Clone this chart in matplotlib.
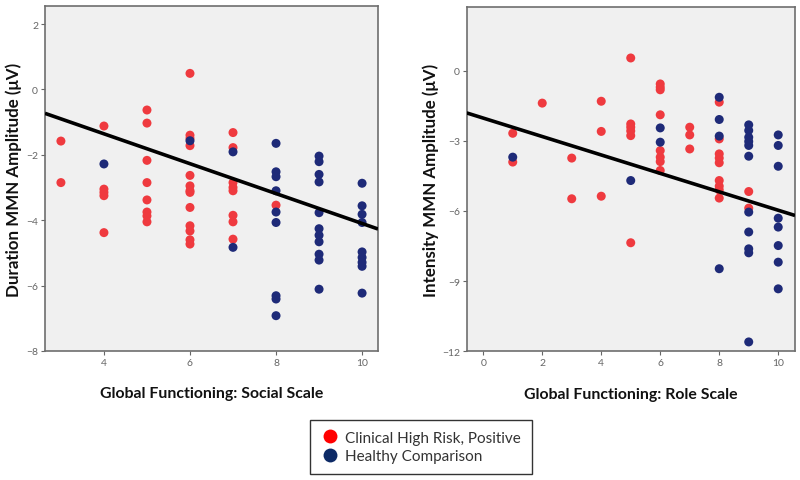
import matplotlib
matplotlib.use("Agg")
import matplotlib.pyplot as plt
from matplotlib.lines import Line2D
import numpy as np

plt.rcParams['font.family'] = ['Lato', 'DejaVu Sans']

# ---- Left panel data: Social scale vs Duration MMN ----
social_chr_x = [3, 3,
                4, 4, 4, 4, 4,
                5, 5, 5, 5, 5, 5, 5, 5,
                6, 6, 6, 6, 6, 6, 6, 6, 6, 6, 6, 6, 6,
                7, 7, 7, 7, 7, 7, 7, 7,
                8]
social_chr_y = [-1.58, -2.85,
                -1.12, -3.05, -3.15, -3.25, -4.38,
                -0.63, -1.03, -2.17, -2.85, -3.38, -3.75, -3.87, -4.05,
                0.49, -1.40, -1.50, -1.72, -2.63, -2.95, -3.10, -3.15, -3.61, -4.17, -4.33, -4.60, -4.73,
                -1.32, -1.78, -2.85, -3.00, -3.10, -3.85, -4.05, -4.58,
                -3.54]
social_hc_x = [4, 6, 7, 7,
               8, 8, 8, 8, 8, 8, 8, 8, 8,
               9, 9, 9, 9, 9, 9, 9, 9, 9, 9, 9,
               10, 10, 10, 10, 10, 10, 10, 10, 10]
social_hc_y = [-2.28, -1.57, -1.91, -4.83,
               -1.65, -2.52, -2.67, -3.10, -3.75, -4.07, -6.31, -6.41, -6.92,
               -2.04, -2.21, -2.60, -2.83, -3.77, -4.26, -4.46, -4.66, -5.04, -5.22, -6.11,
               -2.87, -3.56, -3.82, -4.07, -4.97, -5.14, -5.29, -5.41, -6.23]
social_fit = (0.47, -0.457)   # intercept, slope

# ---- Right panel data: Role scale vs Intensity MMN ----
role_chr_x = [1, 1, 2, 3, 3, 4, 4, 4,
              5, 5, 5, 5, 5, 5,
              6, 6, 6, 6, 6, 6, 6, 6,
              7, 7, 7,
              8, 8, 8, 8, 8, 8, 8, 8, 8,
              9, 9]
role_chr_y = [-2.68, -3.91, -1.39, -3.74, -5.48, -1.31, -2.60, -5.37,
              0.54, -2.28, -2.42, -2.58, -2.78, -7.36,
              -0.57, -0.71, -0.82, -1.89, -3.42, -3.70, -3.89, -4.27,
              -2.42, -2.75, -3.35,
              -1.35, -2.92, -3.56, -3.74, -3.94, -4.70, -4.94, -5.10, -5.45,
              -5.17, -5.88]
role_hc_x = [1, 5, 6, 6,
             8, 8, 8, 8,
             9, 9, 9, 9, 9, 9, 9, 9, 9, 9, 9,
             10, 10, 10, 10, 10, 10, 10, 10]
role_hc_y = [-3.70, -4.70, -2.45, -3.06,
             -1.14, -2.09, -2.80, -8.47,
             -2.32, -2.56, -2.85, -3.03, -3.20, -3.66, -6.05, -6.90, -7.62, -7.79, -11.60,
             -2.75, -3.20, -4.09, -6.31, -6.69, -7.48, -8.19, -9.33]
role_fit = (-2.03, -0.394)

RED = '#EF3A3F'
BLUE = '#1E2A78'
BG = '#F0F0F0'
FRAME = '#6E6E6E'

fig = plt.figure(figsize=(8, 4.81), dpi=100)
fig.patch.set_facecolor('white')

ax1 = fig.add_axes([0.05625, 0.2682, 0.41625, 0.7172])
ax2 = fig.add_axes([0.5834, 0.2676, 0.4104, 0.7158])

def style(ax, xlim, ylim, xticks, yticks, xlabel, ylabel, ylabel_x):
    ax.set_facecolor(BG)
    ax.set_xlim(*xlim)
    ax.set_ylim(*ylim)
    ax.set_xticks(xticks)
    ax.set_yticks(yticks)
    for s in ax.spines.values():
        s.set_color(FRAME)
        s.set_linewidth(1.2)
    ax.tick_params(axis='both', direction='out', length=3, width=0.8,
                   color='#666666', labelcolor='#666666', labelsize=7.5, pad=2)
    ax.set_xlabel(xlabel, fontsize=11.4, fontweight='bold', labelpad=14, color='#111111')
    ax.set_ylabel(ylabel, fontsize=12.2, fontweight='bold', color='#111111')
    ax.yaxis.set_label_coords(ylabel_x, 0.5)

def draw(ax, chr_x, chr_y, hc_x, hc_y, fit):
    ax.scatter(chr_x, chr_y, s=42, color=RED, edgecolors='none', zorder=3)
    ax.scatter(hc_x, hc_y, s=42, color=BLUE, edgecolors='none', zorder=3)
    xs = np.array(ax.get_xlim())
    ax.plot(xs, fit[0] + fit[1] * xs, color='black', lw=2.6, zorder=4,
            solid_capstyle='butt')
    ax.set_xlim(*xs)

style(ax1, (2.63, 10.37), (-8, 2.55), [4, 6, 8, 10], [-8, -6, -4, -2, 0, 2],
      'Global Functioning: Social Scale', 'Duration MMN Amplitude (\u03bcV)',
      (22 - 45) / 333.0)
draw(ax1, social_chr_x, social_chr_y, social_hc_x, social_hc_y, social_fit)

style(ax2, (-0.56, 10.57), (-12, 2.72), [0, 2, 4, 6, 8, 10], [-12, -9, -6, -3, 0],
      'Global Functioning: Role Scale', 'Intensity MMN Amplitude (\u03bcV)',
      (439 - 466.7) / 328.3)
draw(ax2, role_chr_x, role_chr_y, role_hc_x, role_hc_y, role_fit)

handles = [Line2D([], [], marker='o', ls='none', markersize=10,
                  markerfacecolor='#FF0000', markeredgecolor='none',
                  label='Clinical High Risk, Positive'),
           Line2D([], [], marker='o', ls='none', markersize=10,
                  markerfacecolor='#0D2A66', markeredgecolor='none',
                  label='Healthy Comparison')]
leg = fig.legend(handles=handles, loc='center', bbox_to_anchor=(0.526, 0.069),
                 frameon=True, fancybox=False, fontsize=11, handletextpad=0.4,
                 borderpad=0.7, labelspacing=0.3, handlelength=1.2,
                 borderaxespad=0)
leg.get_frame().set_edgecolor('black')
leg.get_frame().set_linewidth(1.0)
for t in leg.get_texts():
    t.set_color('#333333')

fig.savefig('out.png', dpi=100, facecolor='white')
